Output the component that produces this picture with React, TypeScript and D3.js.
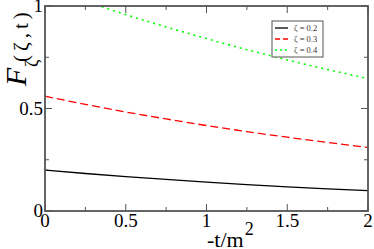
import React from "react";
import * as d3 from "d3";

const xs = [0, 0.25, 0.5, 0.75, 1, 1.25, 1.5, 1.75, 2];
const zeta02 = [0.2, 0.183, 0.168, 0.154, 0.141, 0.129, 0.118, 0.108, 0.099];
const zeta03 = [0.56, 0.52, 0.483, 0.449, 0.417, 0.387, 0.36, 0.334, 0.31];
const zeta04 = [1.093, 1.024, 0.958, 0.898, 0.841, 0.787, 0.737, 0.69, 0.646];
const xTicks = [0, 0.5, 1, 1.5, 2];
const yTicks = [0, 0.5, 1];
const seriesNames = ["ζ = 0.2", "ζ = 0.3", "ζ = 0.4"];

const W = 374;
const H = 249;
const margin = { top: 6, left: 45, right: 6, bottom: 38 };

function App() {
  const x = d3.scaleLinear().domain([0, 2]).range([margin.left, W - margin.right]);
  const y = d3.scaleLinear().domain([0, 1]).range([H - margin.bottom, margin.top]);

  const line = d3
    .line<number>()
    .x((_, i) => x(xs[i]))
    .y(d => y(d))
    .curve(d3.curveMonotoneX);

  const series = [
    { vals: zeta02, color: "#000", dash: "none", w: 1.3 },
    { vals: zeta03, color: "#ff0000", dash: "8,4", w: 1.3 },
    { vals: zeta04, color: "#00ff00", dash: "2,4", w: 1.6 },
  ];

  const minorX = d3.range(0, 2.01, 0.25);
  const minorY = d3.range(0, 1.01, 0.25);
  const [x0, x1] = x.range();
  const [y1, y0] = y.range();
  const axisColor = "#555";
  const serif = { fontFamily: "Liberation Serif, Times New Roman, serif" };

  return (
    <svg width={W} height={H} style={{ position: "absolute", left: 0, top: 0, ...serif }}>
      <defs>
        <clipPath id="plot">
          <rect x={x0} y={y0} width={x1 - x0} height={y1 - y0} />
        </clipPath>
      </defs>
      <g clipPath="url(#plot)">
        {series.map((s, i) => (
          <path
            key={i}
            d={line(s.vals) || ""}
            fill="none"
            stroke={s.color}
            strokeWidth={s.w}
            strokeDasharray={s.dash}
          />
        ))}
      </g>
      {/* frame */}
      <rect x={x0} y={y0} width={x1 - x0} height={y1 - y0} fill="none" stroke={axisColor} strokeWidth={1.8} />
      {/* ticks, inward on all four sides */}
      {minorX.map(t => {
        const len = xTicks.includes(t) ? 7 : 4;
        return (
          <g key={"x" + t} stroke={axisColor} strokeWidth={1}>
            <line x1={x(t)} x2={x(t)} y1={y1} y2={y1 - len} />
            <line x1={x(t)} x2={x(t)} y1={y0} y2={y0 + len} />
          </g>
        );
      })}
      {minorY.map(t => {
        const len = yTicks.includes(t) ? 7 : 4;
        return (
          <g key={"y" + t} stroke={axisColor} strokeWidth={1}>
            <line x1={x0} x2={x0 + len} y1={y(t)} y2={y(t)} />
            <line x1={x1} x2={x1 - len} y1={y(t)} y2={y(t)} />
          </g>
        );
      })}
      {xTicks.map(t => (
        <text key={"xl" + t} x={x(t)} y={227} textAnchor="middle" style={serif} fontSize={19}>
          {d3.format("")(t)}
        </text>
      ))}
      {yTicks.map(t => (
        <text key={"yl" + t} x={x0 - 2} y={y(t) + 6} textAnchor="end" style={serif} fontSize={19}>
          {d3.format("")(t)}
        </text>
      ))}
      {/* axis titles */}
      <text x={207} y={247} style={serif} fontSize={22}>
        -t/m
        <tspan dy={-12} dx={1} fontSize={18}>2</tspan>
      </text>
      <g transform="translate(26,86) rotate(-90)" style={serif}>
        <text x={0} y={0} fontSize={30} fontStyle="italic">F</text>
        <text x={19} y={12} fontSize={18}>ζ</text>
        <text x={24} y={2} fontSize={21} letterSpacing={4}>(ζ,t)</text>
      </g>
      {/* legend */}
      <rect x={272} y={21} width={51} height={36} fill="#fff" stroke={axisColor} strokeWidth={1} />
      {series.map((s, i) => (
        <g key={"lg" + i}>
          <line
            x1={275}
            x2={288}
            y1={28 + i * 11}
            y2={28 + i * 11}
            stroke={s.color}
            strokeWidth={s.w}
            strokeDasharray={i === 1 ? "5,3" : i === 2 ? "2,3" : "none"}
          />
          <text x={294} y={31 + i * 11} style={serif} fontSize={8.5} fill="#333">
            {seriesNames[i]}
          </text>
        </g>
      ))}
    </svg>
  );
}

export default App;
